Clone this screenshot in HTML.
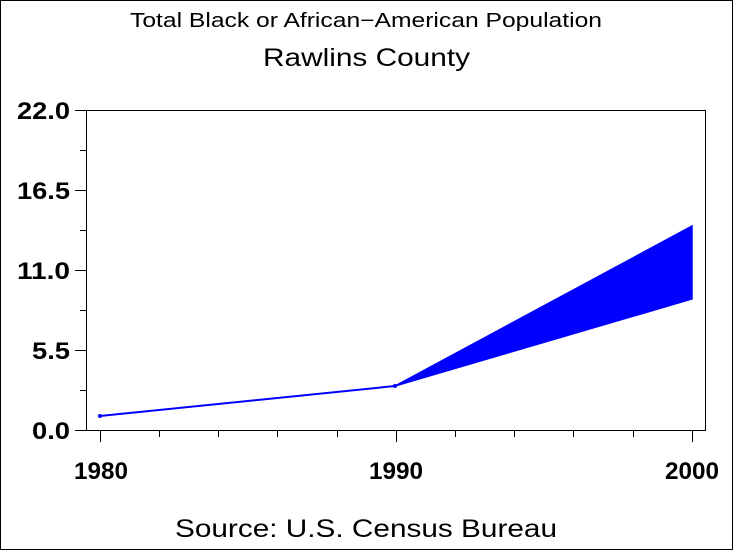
<!DOCTYPE html>
<html><head><style>
html,body{margin:0;padding:0;background:#fff}
svg{display:block}
text{font-family:"Liberation Sans",Arial,sans-serif;fill:#000}
</style></head><body>
<svg width="733" height="550" viewBox="0 0 733 550" xmlns="http://www.w3.org/2000/svg">
<rect x="0.5" y="0.5" width="732" height="549" fill="#fff" stroke="#000" stroke-width="1"/>
<text x="130" y="27" font-size="20" textLength="472" lengthAdjust="spacingAndGlyphs">Total Black or African−American Population</text>
<text x="263" y="66" font-size="25" textLength="207" lengthAdjust="spacingAndGlyphs">Rawlins County</text>
<rect x="86.5" y="110.5" width="619" height="320" fill="none" stroke="#000" stroke-width="1"/>
<g stroke="#000" stroke-width="1">
<line x1="75" y1="110.5" x2="86" y2="110.5"/><line x1="80" y1="150.5" x2="86" y2="150.5"/>
<line x1="75" y1="190.5" x2="86" y2="190.5"/><line x1="80" y1="230.5" x2="86" y2="230.5"/>
<line x1="75" y1="270.5" x2="86" y2="270.5"/><line x1="80" y1="310.5" x2="86" y2="310.5"/>
<line x1="75" y1="350.5" x2="86" y2="350.5"/><line x1="80" y1="390.5" x2="86" y2="390.5"/>
<line x1="75" y1="430.5" x2="86" y2="430.5"/>
<line x1="100.5" y1="430" x2="100.5" y2="442"/><line x1="159.5" y1="430" x2="159.5" y2="437"/>
<line x1="218.5" y1="430" x2="218.5" y2="437"/><line x1="277.5" y1="430" x2="277.5" y2="437"/>
<line x1="337.5" y1="430" x2="337.5" y2="437"/><line x1="396.5" y1="430" x2="396.5" y2="442"/>
<line x1="455.5" y1="430" x2="455.5" y2="437"/><line x1="514.5" y1="430" x2="514.5" y2="437"/>
<line x1="573.5" y1="430" x2="573.5" y2="437"/><line x1="633.5" y1="430" x2="633.5" y2="437"/>
<line x1="692.5" y1="430" x2="692.5" y2="442"/>
</g>
<g font-size="24" font-weight="bold" lengthAdjust="spacingAndGlyphs">
<text x="17" y="119" textLength="53" lengthAdjust="spacingAndGlyphs">22.0</text>
<text x="17" y="199" textLength="53" lengthAdjust="spacingAndGlyphs">16.5</text>
<text x="17" y="279" textLength="53" lengthAdjust="spacingAndGlyphs">11.0</text>
<text x="32" y="359" textLength="38" lengthAdjust="spacingAndGlyphs">5.5</text>
<text x="32" y="439" textLength="38" lengthAdjust="spacingAndGlyphs">0.0</text>
<text x="74" y="479" textLength="54" lengthAdjust="spacingAndGlyphs">1980</text>
<text x="369" y="479" textLength="54" lengthAdjust="spacingAndGlyphs">1990</text>
<text x="665" y="479" textLength="54" lengthAdjust="spacingAndGlyphs">2000</text>
</g>
<polygon points="395,386 692,226 692,299" fill="#0000ff" stroke="#0000ff" stroke-width="1.5"/>
<polyline points="100,416 395,386" fill="none" stroke="#0000ff" stroke-width="2"/>
<circle cx="100" cy="416" r="2" fill="#0000ff"/><circle cx="395" cy="386" r="2" fill="#0000ff"/>
<text x="175" y="537" font-size="25" textLength="382" lengthAdjust="spacingAndGlyphs">Source: U.S. Census Bureau</text>
</svg>
</body></html>
